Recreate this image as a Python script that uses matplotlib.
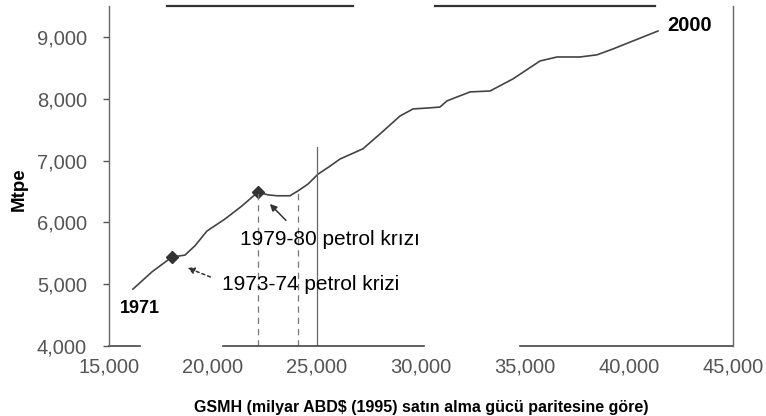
import matplotlib
matplotlib.use("Agg")
import matplotlib.pyplot as plt

plt.rcParams['font.family'] = ['Liberation Sans', 'DejaVu Sans']

# world GDP (PPP, bn 1995 US$) vs. primary energy supply (Mtpe), 1971-2000
gdp = [16150, 17070, 18030, 18650, 19130, 19710, 20580, 21390, 22160, 22640,
       23080, 23700, 24090, 24570, 25050, 25630, 26110, 27210, 28130, 28990,
       29620, 30340, 30910, 31250, 32360, 33320, 34420, 35720, 36540, 37640,
       38460, 39230, 41390]
mtpe = [4920, 5200, 5440, 5470, 5620, 5860, 6055, 6265, 6490, 6445,
        6430, 6430, 6510, 6620, 6780, 6910, 7025, 7190, 7460, 7720,
        7835, 7850, 7865, 7965, 8110, 8125, 8320, 8610, 8675, 8675,
        8710, 8805, 9095]

# oil crisis markers
crisis_gdp = [18030, 22160]
crisis_mtpe = [5440, 6490]

# vertical guide lines
dash_x = [22160, 24100]
dash_top = [6490, 6510]
solid_x = 25000
solid_top = 7220

xticks = [15000, 20000, 25000, 30000, 35000, 40000, 45000]
yticks = [4000, 5000, 6000, 7000, 8000, 9000]

fig = plt.figure(figsize=(7.66, 4.16), dpi=100)
ax = fig.add_axes([0.1423, 0.1683, 0.8146, 0.8173])

line_col = '#444444'
ax.plot(gdp, mtpe, color=line_col, lw=1.2)
ax.plot(crisis_gdp, crisis_mtpe, ls='none', marker='D', ms=6, color='#333333')

for xv, top in zip(dash_x, dash_top):
    ax.plot([xv, xv], [4000, top], color='#777777', lw=0.9, ls=(0, (5, 4)))
ax.plot([solid_x, solid_x], [4000, solid_top], color='#666666', lw=0.9)

ax.set_xlim(15000, 45000)
ax.set_ylim(4000, 9500)
ax.set_xticks(xticks)
ax.set_yticks(yticks)
ax.set_xticklabels([f'{v:,}' for v in xticks])
ax.set_yticklabels([f'{v:,}' for v in yticks])
ax.tick_params(axis='x', length=0, pad=8, labelsize=14.5, labelcolor='#555555')
ax.tick_params(axis='y', length=4, width=1, pad=12, labelsize=14.5,
               labelcolor='#555555', color='#555555')

# scanned frame: broken top and bottom edges
ax.spines['top'].set_visible(False)
ax.spines['bottom'].set_visible(False)
for s in ['left', 'right']:
    ax.spines[s].set_color('#666666')
    ax.spines[s].set_linewidth(1.0)
for a, b in [(0.0, 0.05), (0.183, 0.505), (0.659, 1.0)]:
    ax.axhline(4000, xmin=a, xmax=b, color='#444444', lw=1.2, clip_on=False)
for a, b in [(0.093, 0.391), (0.522, 0.875)]:
    ax.axhline(9500, xmin=a, xmax=b, color='#333333', lw=1.6, clip_on=False)

ax.text(41830, 9180, '2000', fontsize=14.5, fontweight='bold', va='center', ha='left')
ax.text(15530, 4600, '1971', fontsize=13, fontweight='bold', va='center', ha='left')
ax.text(20430, 5000, '1973-74 petrol krizi', fontsize=15, va='center', ha='left')
ax.text(21300, 5730, '1979-80 petrol krızı', fontsize=15, va='center', ha='left')

ax.annotate('', xy=(22640, 6330), xytext=(23600, 6000),
            arrowprops=dict(arrowstyle='-|>', color='#333333', lw=1.1,
                            mutation_scale=10))
ax.annotate('', xy=(18650, 5280), xytext=(20000, 5100),
            arrowprops=dict(arrowstyle='-|>', color='#333333', lw=1.1,
                            ls=(0, (2, 2)), mutation_scale=10))

ax.set_ylabel('Mtpe', fontsize=13.5, fontweight='bold')
ax.yaxis.set_label_coords(-0.13, 0.46)
ax.set_xlabel('GSMH (milyar ABD$ (1995) satın alma gücü paritesine göre)',
              fontsize=11.5, fontweight='bold', labelpad=17)

fig.savefig('out.png', dpi=100)
